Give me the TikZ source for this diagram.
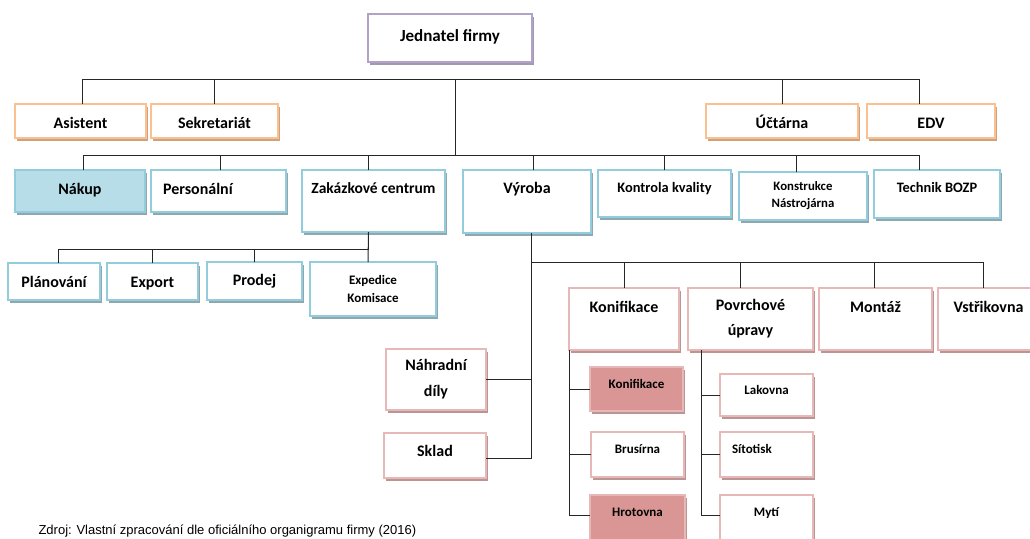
\documentclass[tikz,border=0pt]{standalone}
\usepackage{fontspec}
\setmainfont{Carlito}
\newfontfamily\srcfont{Liberation Sans}
\usetikzlibrary{positioning,calc,shadows}

\definecolor{chiefline}{HTML}{B3A2C7}
\definecolor{chiefshade}{HTML}{A497B2}
\definecolor{staffline}{HTML}{FAC090}
\definecolor{staffshade}{HTML}{CDA27E}
\definecolor{deptline}{HTML}{93CDDD}
\definecolor{deptshade}{HTML}{8FA7AF}
\definecolor{nakupfill}{HTML}{B7DEE8}
\definecolor{unitline}{HTML}{E6B9B8}
\definecolor{unitshade}{HTML}{BC9494}
\definecolor{unitfill}{HTML}{D99694}

\tikzset{
  box/.style={draw, line width=1.5pt, fill=white, inner sep=0pt, outer sep=0pt,
    anchor=north west, align=center, font=\bfseries\fontsize{16}{25}\selectfont},
  sz/.style n args={3}{minimum width=#1pt, text height=#2pt, text depth=#3pt},
  wh/.style 2 args={minimum width=#1pt, minimum height=#2pt},
  chief/.style={box, draw=chiefline, drop shadow={shadow xshift=1.5pt, shadow yshift=-2.5pt, fill=chiefshade, opacity=1}},
  staff/.style={box, draw=staffline, drop shadow={shadow xshift=1.5pt, shadow yshift=-2.5pt, fill=staffshade, opacity=1}},
  dept/.style={box, draw=deptline, drop shadow={shadow xshift=1.5pt, shadow yshift=-2.5pt, fill=deptshade, opacity=1}},
  unit/.style={box, draw=unitline, drop shadow={shadow xshift=1.5pt, shadow yshift=-2.5pt, fill=unitshade, opacity=1}},
  small/.style={font=\bfseries\fontsize{13}{18}\selectfont},
  link/.style={draw=black!85, line width=1pt},
}

\begin{document}
\begin{tikzpicture}[x=1pt, y=-1pt]
    \useasboundingbox (0,0) rectangle (1030,538);

    \node[chief, sz={164}{27.6}{20.4}, font=\bfseries\fontsize{17}{20}\selectfont] (jednatel) at (368,14) {Jednatel firmy};

    \node[staff, sz={131}{24}{10}] (asistent) at (15,104) {Asistent};
    \node[staff, sz={127}{24}{10}] (sekretariat) at (151,104) {Sekretariát};
    \node[staff, sz={152}{24}{10}] (uctarna) at (706,104) {Účtárna};
    \node[staff, sz={128}{24}{10}] (edv) at (867,104) {EDV};

    \node[dept, sz={130}{24.3}{17.7}, fill=nakupfill] (nakup) at (15,170) {Nákup};
    \node[dept, sz={135}{24.3}{17.7}, text width=111pt, align=left] (personal) at (151,170) {Personální};
    \node[dept, sz={143}{23}{39}, font=\bfseries\fontsize{15.5}{20}\selectfont] (zakazky) at (302,170) {Zakázkové centrum};
    \node[dept, sz={128}{23}{40}] (vyroba) at (463,170) {Výroba};
    \node[dept, sz={133}{22.8}{24.2}, font=\bfseries\fontsize{14.4}{18}\selectfont] (kontrola) at (598,170) {Kontrola kvality};
    \node[dept, wh={128}{48}, font=\bfseries\fontsize{12.8}{17}\selectfont] (konstrukce) at (739,172) {Konstrukce\\Nástrojárna};
    \node[dept, sz={126}{22.8}{25.2}, font=\bfseries\fontsize{14.4}{18}\selectfont] (technik) at (874,170) {Technik BOZP};

    \node[dept, sz={92}{24.3}{12.7}] (planovani) at (8,263) {Plánování};
    \node[dept, sz={91}{24.3}{12.7}] (export) at (107,263) {Export};
    \node[dept, sz={95}{23.3}{14.7}] (prodej) at (207,262) {Prodej};
    \node[dept, wh={126}{54}, small] (expedice) at (310,262) {Expedice\\Komisace};

    \node[unit, sz={110}{24.3}{37.7}] (konif) at (569,288) {Konifikace};
    \node[unit, wh={125}{62}] (povrch) at (688,288) {Povrchové\\úpravy};
    \node[unit, sz={113}{24.3}{37.7}] (montaz) at (819,288) {Montáž};
    \node[unit, sz={101}{24.3}{37.7}] (vstrik) at (938,288) {Vstřikovna};

    \node[unit, wh={100}{61}, font=\bfseries\fontsize{16}{26}\selectfont] (nahradni) at (386,349) {Náhradní\\díly};
    \node[unit, sz={102}{23.3}{21.7}] (sklad) at (384,433) {Sklad};

    \node[unit, sz={93}{21.3}{22.7}, small, fill=unitfill] (konifsub) at (590,367) {Konifikace};
    \node[unit, sz={93}{21.3}{23.7}, small] (brusirna) at (591,432) {Brusírna};
    \node[unit, sz={95}{21.3}{23.7}, small, fill=unitfill] (hrotovna) at (590,495) {Hrotovna};
    \node[unit, sz={93}{20.3}{21.7}, small] (lakovna) at (720,374) {Lakovna};
    \node[unit, sz={93}{21.3}{23.7}, small, text width=69pt, align=left] (sitotisk) at (720,432) {Sítotisk};
    \node[unit, sz={93}{21.3}{23.7}, small] (myti) at (720,495) {Mytí};

    \draw[link] ([xshift=2pt]asistent.north) -- ++(0,-25) -| ([xshift=-12pt]edv.north);
    \draw[link] (sekretariat.north) -- ++(0,-25);
    \draw[link] (uctarna.north) -- ++(0,-25);
    \coordinate (bus) at (455,79);
    \draw[link] (bus) -- ++(0,76);

    \draw[link] ([xshift=3pt]nakup.north) -- ++(0,-15) -| ([xshift=-18pt]technik.north);
    \foreach \n/\dx in {personal/2, zakazky/-5, vyroba/6, kontrola/0}
        \draw[link] ([xshift=\dx pt]\n.north) -- ++(0,-15);
    \draw[link] ([xshift=-7pt]konstrukce.north) -- ++(0,-17);

    \draw[link] ([xshift=-5pt]zakazky.south) -- ([xshift=-5pt]expedice.north);
    \draw[link] ([xshift=4pt]planovani.north) -- ++(0,-14) -| ([xshift=-5pt]zakazky.south);
    \draw[link] (export.north) -- ++(0,-14);
    \draw[link] (prodej.north) -- ++(0,-13);

    \coordinate (axis) at ([xshift=4pt]vyroba.south);
    \draw[link] (axis) |- ([yshift=-3pt]sklad.east);
    \draw[link] (nahradni.east) -- (nahradni.east -| axis);
    \draw[link] ([xshift=-5pt]vstrik.north) -- ++(0,-26) -| (axis);
    \foreach \n/\dx in {konif/0, povrch/-10, montaz/-1}
        \draw[link] ([xshift=\dx pt]\n.north) -- ++(0,-26);

    \draw[link] (konif.south west) |- ([yshift=2pt]hrotovna.west);
    \draw[link] (konifsub.west) -- (konifsub.west -| konif.south west);
    \draw[link] (brusirna.west) -- (brusirna.west -| konif.south west);
    \draw[link] ([xshift=13pt]povrch.south west) |- ([yshift=2pt]myti.west);
    \draw[link] (lakovna.west) -- ++(-19,0);
    \draw[link] (sitotisk.west) -- ++(-19,0);

    \node[anchor=base west, font=\srcfont\fontsize{13}{15}\selectfont] (zdroj) at (35,534) {Zdroj: Vlastní zpracování dle oficiálního organigramu firmy (2016)};

\end{tikzpicture}
\end{document}
